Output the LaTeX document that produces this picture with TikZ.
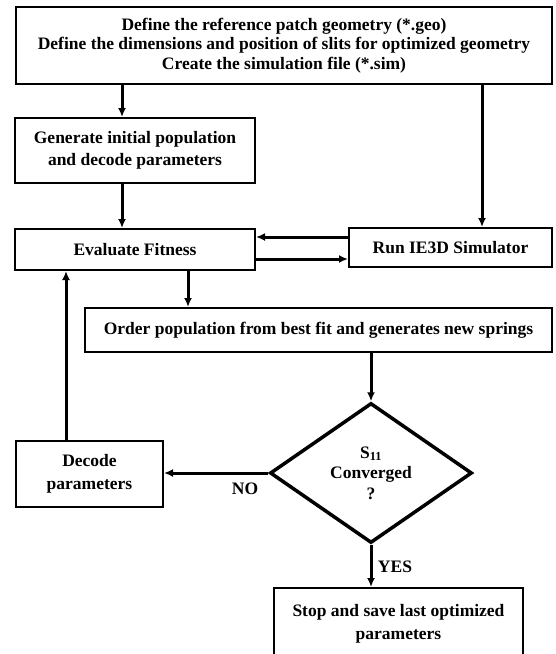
\documentclass[tikz,border=0pt]{standalone}
\usepackage{fontspec}
\setmainfont{Liberation Serif}
\usepackage{tikz}
\usetikzlibrary{arrows.meta,shapes.geometric}

\begin{document}
\begin{tikzpicture}[x=1pt,y=-1pt]
    \tikzstyle{every node}+=[inner sep=0pt, font=\bfseries\fontsize{17.5}{22.5}\selectfont, align=center]
    \tikzstyle{box}=[draw, line width=2pt, rectangle]
    \tikzstyle{link}=[line width=3pt, -{Latex[length=9pt,width=8pt]}]
    \useasboundingbox (0,0) rectangle (555,654);
    \clip (0,0) rectangle (555,654);
    \node [box, minimum width=536, minimum height=77, font=\bfseries\fontsize{17.5}{19.5}\selectfont] (define) at (284,45.5)
        {Define the reference patch geometry (*.geo)\\Define the dimensions and position of slits for optimized geometry\\Create the simulation file (*.sim)};
    \node [box, minimum width=240, minimum height=65] (init) at (135,150.5)
        {Generate initial population\\and decode parameters};
    \node [box, minimum width=240, minimum height=41] (fitness) at (135,249.5) {Evaluate Fitness};
    \node [box, minimum width=203, minimum height=39] (ie3d) at (450.5,247.5) {Run IE3D Simulator};
    \node [box, minimum width=467, minimum height=44] (order) at (318.5,330)
        {Order population from best fit and generates new springs};
    \node [draw, diamond, line width=3.5pt, aspect=1.44, minimum width=202, minimum height=140, font=\bfseries\fontsize{17.5}{20.5}\selectfont] (conv) at (371,473)
        {S\textsubscript{11}\\Converged\\?};
    \node [box, minimum width=147, minimum height=66] (decode) at (89.5,474) {Decode\\parameters};
    \node [box, minimum width=249, minimum height=72] (stop) at (398.5,624)
        {Stop and save last optimized\\parameters};
    \draw [link] ([xshift=-13]init.north |- define.south) -- ([xshift=-13]init.north);
    \draw [link] ([xshift=-13]init.south) -- ([xshift=-13]fitness.north);
    \draw [link] ([xshift=31.5]ie3d.north |- define.south) -- ([xshift=31.5]ie3d.north);
    \draw [link] ([yshift=10.5]ie3d.west) -- ([yshift=10.5]ie3d.west -| fitness.east);
    \draw [link] ([yshift=-9.5]fitness.east) -- ([yshift=-9.5]fitness.east -| ie3d.west);
    \draw [link] ([xshift=53]fitness.south) -- ([xshift=53]fitness.south |- order.north);
    \draw [link] (conv.north |- order.south) -- (conv.north);
    \draw [link] (conv.west) -- (conv.west -| decode.east);
    \draw [link] ([xshift=-23.5]decode.north) -- ([xshift=-23.5]decode.north |- fitness.south);
    \draw [link] (conv.south) -- (conv.south |- stop.north);
    \node (no) at (245,489) {NO};
    \node (yes) at (395,567) {YES};
\end{tikzpicture}
\end{document}
